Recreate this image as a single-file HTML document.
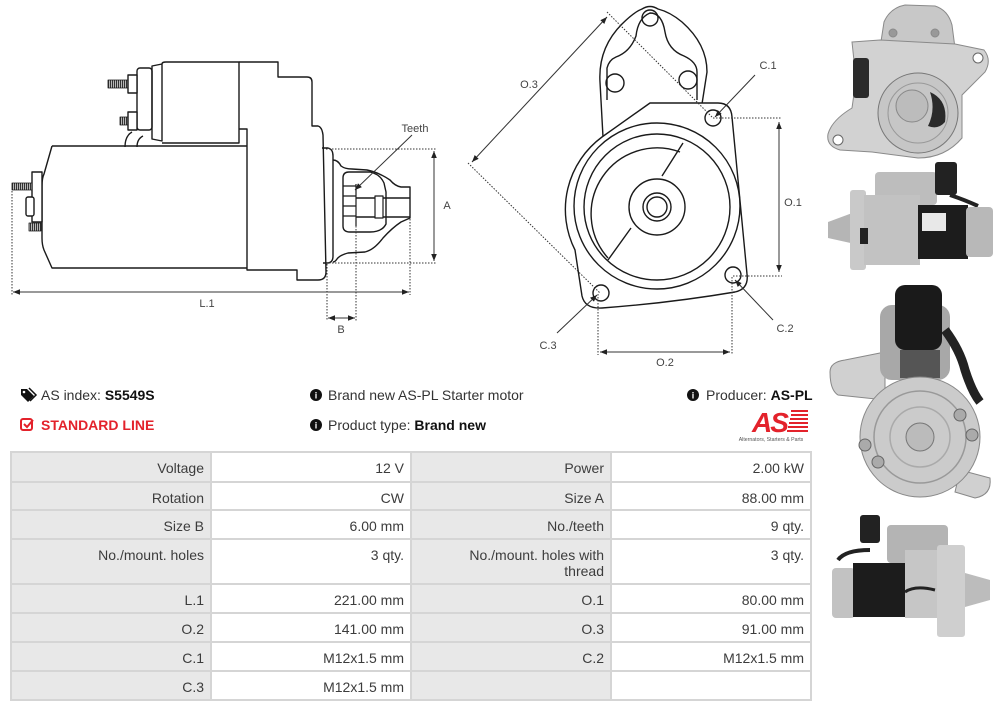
<!DOCTYPE html>
<html><head><meta charset="utf-8">
<style>
*{margin:0;padding:0;box-sizing:border-box}
html,body{width:1000px;height:711px;background:#fff;overflow:hidden;font-family:"Liberation Sans",Arial,sans-serif}
#svg{position:absolute;left:0;top:0}
.info{position:absolute;font-size:14px;color:#333;line-height:16px;white-space:nowrap}
.info b{color:#111}
.red{color:#e3222b;font-weight:bold}
table{position:absolute;left:10px;top:451px;width:800px;border-collapse:collapse;table-layout:fixed;font-size:14px;color:#3c3c3c}
td{border:2px solid #d5d5d5;text-align:right;vertical-align:top;padding:7px 6px 0 6px;line-height:16px;overflow:hidden;white-space:nowrap}
td.l{background:#e8e8e8}
td.v{background:#fff}
</style></head><body>
<svg id="svg" width="1000" height="711" viewBox="0 0 1000 711" xmlns="http://www.w3.org/2000/svg">
<defs>
<marker id="ar" viewBox="0 0 10 10" refX="10" refY="5" markerWidth="7" markerHeight="7" markerUnits="userSpaceOnUse" orient="auto-start-reverse"><path d="M0,1 L10,5 L0,9 z" fill="#222"/></marker>
<pattern id="thr" width="2" height="4" patternUnits="userSpaceOnUse"><rect width="1.2" height="4" fill="#333"/><rect x="1.2" width="0.8" height="4" fill="#bbb"/></pattern>
</defs>

<!-- LEFT DRAWING -->
<g fill="none" stroke="#1a1a1a" stroke-width="1.4" stroke-linejoin="round">
<!-- solenoid -->
<rect x="137" y="68" width="15" height="62" rx="3" fill="#fff"/>
<path d="M152,66 L162,64 L162,141 L152,139 Z"/>
<path d="M162,64 Q162,62 166,62 L239,62 L239,143 L162,143"/>
<rect x="108" y="80" width="20" height="8" fill="url(#thr)" stroke-width="0.8"/>
<rect x="128" y="75" width="9" height="18" fill="#fff"/>
<rect x="120" y="117" width="8" height="8" fill="url(#thr)" stroke-width="0.8"/>
<rect x="128" y="112" width="9" height="18" fill="#fff"/>
<!-- housing -->
<path d="M239,62 L278,62 L278,77 L307,77 Q312,77 312,82 L312,126 L318,126 Q322,127 323,135 L326,272 Q326,280 318,280 L297,280 L297,270 L247,270 L247,129 L239,129"/>
<!-- connection -->
<path d="M125,147 Q125,136 132,132"/><path d="M137,147 Q137,139 143,136"/>
<!-- motor body -->
<path d="M52,146 L247,146 M247,268 L52,268 L44,250 Q42,245 42,238 L42,186 Q42,178 44,174 L52,146"/>
<!-- left terminals -->
<rect x="32" y="172" width="10" height="50" fill="#fff"/>
<rect x="12" y="183" width="20" height="7" fill="url(#thr)" stroke-width="0.8"/>
<rect x="26" y="197" width="8" height="19" rx="2" fill="#fff"/>
<rect x="29" y="223" width="12" height="8" fill="url(#thr)" stroke-width="0.8"/>
<!-- flange -->
<path d="M322,148 L328,148 Q333,149 333,156 L333,256 Q333,263 327,263 L323,263"/>
<!-- nose -->
<path d="M333,160 Q338,160 341,166 Q345,169 352,169 L367,170 Q378,172 390,180 Q395,186 401,187 L410,187 L410,218 L401,222 Q392,228 383,238 Q374,250 365,252 L348,253 Q340,255 337,259 Q335,262 333,262"/>
<path d="M343,178 Q343,172 349,172 L370,172 Q380,174 384,183 L386,192 L386,224 Q382,232 370,232 L350,232 Q343,232 343,226 Z"/>
<path d="M343,186 L356,186 M343,196 L356,196 M343,206 L356,206 M343,216 L356,216 M356,184 L356,226" stroke-width="1.2"/>
<path d="M356,198 L410,198 M356,217 L410,217"/>
<rect x="375" y="196" width="8" height="22" fill="#fff" stroke-width="1.2"/>
</g>
<!-- left dims -->
<g fill="none" stroke="#333" stroke-width="1">
<path d="M326,149 L437,149 M329,263 L437,263 M12,191 L12,295 M410,219 L410,295 M327,264 L327,321 M356,226 L356,321" stroke-dasharray="1.5,1.5"/>
<path d="M434,151 L434,261" marker-start="url(#ar)" marker-end="url(#ar)"/>
<path d="M13,292 L409,292" marker-start="url(#ar)" marker-end="url(#ar)"/>
<path d="M328,318 L355,318" marker-start="url(#ar)" marker-end="url(#ar)"/>
<path d="M412,135 L355,190" marker-end="url(#ar)"/>
</g>
<g font-family="Liberation Sans,Arial,sans-serif" font-size="11" fill="#444" text-anchor="middle">
<text x="415" y="132">Teeth</text>
<text x="447" y="209">A</text>
<text x="207" y="307">L.1</text>
<text x="341" y="333">B</text>
</g>

<!-- MIDDLE DRAWING -->
<g fill="none" stroke="#1a1a1a" stroke-width="1.4" stroke-linejoin="round">
<path d="M603,137 L600,82 Q598,48 622,24 Q634,12 642,9 Q650,4 658,9 Q670,12 682,22 Q707,44 707,72 L702,104"/>
<path d="M607,100 L607,68 Q609,60 616,57 Q630,52 636,36 Q638,18 650,13 Q662,13 665,32 Q668,50 684,56 Q697,62 697,72 L697,100"/>
<circle cx="650" cy="18" r="8"/>
<circle cx="615" cy="83" r="9"/>
<circle cx="688" cy="80" r="9"/>
<path d="M602,137 L650,103 L718,103 Q731,103 732,117 L747,274 Q749,289 735,292 Q670,303 602,308 Q585,309 582,296 L575,250 A90,90 0 0 1 602,137" fill="#fff"/>
<circle cx="657" cy="206" r="83" fill="#fff"/>
<circle cx="657" cy="207" r="73"/>
<path d="M680,152 A66,66 0 0 0 608,258"/>
<path d="M683,143 L662,176 M631,228 L608,260"/>
<circle cx="657" cy="207" r="28" fill="#fff"/>
<circle cx="657" cy="207" r="14"/>
<circle cx="657" cy="207" r="10"/>
<circle cx="713" cy="118" r="8"/>
<circle cx="733" cy="275" r="8"/>
<circle cx="601" cy="293" r="8"/>
</g>
<g fill="none" stroke="#333" stroke-width="1">
<path d="M713,118 L782,118 M733,276 L782,276 M598,294 L598,355 M732,277 L732,355 M607,12 L713,118 M468,163 L600,293" stroke-dasharray="1.5,1.5"/>
<path d="M779,122 L779,272" marker-start="url(#ar)" marker-end="url(#ar)"/>
<path d="M600,352 L730,352" marker-start="url(#ar)" marker-end="url(#ar)"/>
<path d="M607,17 L472,162" marker-start="url(#ar)" marker-end="url(#ar)"/>
<path d="M755,75 L715,117" marker-end="url(#ar)"/>
<path d="M773,320 L735,280" marker-end="url(#ar)"/>
<path d="M557,333 L597,295" marker-end="url(#ar)"/>
</g>
<g font-family="Liberation Sans,Arial,sans-serif" font-size="11" fill="#444" text-anchor="middle">
<text x="768" y="69">C.1</text>
<text x="793" y="206">O.1</text>
<text x="529" y="88">O.3</text>
<text x="785" y="332">C.2</text>
<text x="548" y="349">C.3</text>
<text x="665" y="366">O.2</text>
</g>

<!-- PHOTOS -->
<!-- photo 1 -->
<g stroke="#8a8a8a" stroke-width="1">
<path d="M880,48 L884,22 Q890,8 905,5 L935,6 Q948,10 952,25 L955,48 Z" fill="#c8c8c8"/>
<path d="M852,42 L880,40 L955,44 L984,50 Q992,60 985,72 L962,95 L962,138 Q945,158 918,158 L872,152 L840,150 Q826,146 828,134 Q832,120 852,108 L856,80 Z" fill="#d2d2d2"/>
<circle cx="918" cy="113" r="40" fill="#c6c6c6" stroke="#777"/>
<circle cx="918" cy="113" r="30" fill="none" stroke="#999"/>
<circle cx="912" cy="106" r="16" fill="#bcbcbc" stroke="#888"/>
<path d="M930,92 Q948,100 945,122 Q938,130 928,126 Q936,110 930,92 Z" fill="#2a2a2a" stroke="none"/>
<rect x="853" y="58" width="16" height="40" rx="3" fill="#2b2b2b" stroke="none"/>
<circle cx="978" cy="58" r="5" fill="#fff" stroke="#666"/>
<circle cx="838" cy="140" r="5" fill="#fff" stroke="#666"/>
<circle cx="893" cy="33" r="4" fill="#999"/><circle cx="935" cy="33" r="4" fill="#999"/>
</g>
<!-- photo 2 -->
<g stroke="none">
<rect x="875" y="172" width="62" height="33" rx="4" fill="#bdbdbd"/>
<rect x="935" y="162" width="22" height="33" rx="3" fill="#222"/>
<path d="M950,195 Q965,200 978,206" stroke="#222" stroke-width="4" fill="none"/>
<path d="M828,222 L855,212 L855,244 L828,238 Z" fill="#b5b5b5"/>
<rect x="850" y="190" width="16" height="80" rx="3" fill="#c9c9c9"/>
<rect x="864" y="195" width="56" height="70" fill="#c2c2c2"/>
<rect x="918" y="205" width="50" height="54" fill="#1c1c1c"/>
<rect x="966" y="207" width="27" height="50" rx="4" fill="#b8b8b8"/>
<rect x="922" y="213" width="24" height="18" fill="#e8e8e8"/>
<rect x="860" y="228" width="8" height="16" fill="#222"/>
</g>
<!-- photo 3 -->
<g stroke="none">
<path d="M830,372 Q830,362 845,360 L885,352 L885,400 L838,395 Q830,390 830,372 Z" fill="#d0d0d0" stroke="#888"/>
<rect x="880" y="305" width="70" height="75" rx="12" fill="#a8a8a8"/>
<rect x="895" y="285" width="47" height="65" rx="10" fill="#1a1a1a"/>
<rect x="900" y="350" width="40" height="28" fill="#555"/>
<path d="M945,330 Q960,350 965,370 Q972,392 980,402" stroke="#222" stroke-width="9" fill="none"/>
<path d="M960,470 L990,478 Q992,495 975,498 L955,492 Z" fill="#d0d0d0" stroke="#888"/>
<circle cx="920" cy="437" r="60" fill="#cbcbcb" stroke="#888" stroke-width="1"/>
<circle cx="920" cy="437" r="46" fill="none" stroke="#999" stroke-width="1.5"/>
<circle cx="920" cy="437" r="30" fill="none" stroke="#aaa" stroke-width="1.5"/>
<circle cx="920" cy="437" r="14" fill="#bbb" stroke="#777" stroke-width="1"/>
<circle cx="865" cy="445" r="6" fill="#aaa" stroke="#666"/>
<circle cx="878" cy="462" r="6" fill="#aaa" stroke="#666"/>
<circle cx="960" cy="415" r="6" fill="#aaa" stroke="#666"/>
<circle cx="972" cy="435" r="6" fill="#aaa" stroke="#666"/>
</g>
<!-- photo 4 -->
<g stroke="none">
<rect x="860" y="515" width="20" height="28" rx="3" fill="#222"/>
<rect x="887" y="525" width="61" height="38" rx="4" fill="#b4b4b4"/>
<path d="M838,560 Q845,550 870,550" stroke="#222" stroke-width="4" fill="none"/>
<rect x="832" y="568" width="23" height="50" rx="4" fill="#c2c2c2"/>
<rect x="853" y="563" width="54" height="54" fill="#1c1c1c"/>
<rect x="905" y="550" width="35" height="68" fill="#c6c6c6"/>
<rect x="937" y="545" width="28" height="92" rx="3" fill="#cfcfcf"/>
<path d="M965,573 L990,580 L990,600 L965,607 Z" fill="#bcbcbc"/>
<path d="M905,592 Q915,585 935,590" stroke="#222" stroke-width="3" fill="none"/>
</g>

<!-- icons -->
<g>
<path d="M21,389 L27,389 L34,396 L28,402 L21,395 Z" fill="#111"/>
<circle cx="24" cy="392" r="1.3" fill="#fff"/>
<path d="M29,388 L36,395 L30,401" stroke="#111" stroke-width="1.5" fill="none"/>
<circle cx="316" cy="395" r="6" fill="#111"/>
<circle cx="693" cy="395" r="6" fill="#111"/>
<circle cx="316" cy="425" r="6" fill="#111"/>
<rect x="21" y="419" width="11" height="11" rx="2" fill="none" stroke="#e3222b" stroke-width="2"/>
<path d="M24,424 L27,427 L33,420" stroke="#e3222b" stroke-width="2" fill="none"/>
</g>
<g font-family="Liberation Sans,Arial,sans-serif" font-weight="bold" font-size="9" fill="#fff" text-anchor="middle">
<text x="316" y="398.5">i</text><text x="693" y="398.5">i</text><text x="316" y="428.5">i</text>
</g>
<!-- logo -->
<g>
<text x="752" y="432" font-family="Liberation Sans,Arial,sans-serif" font-weight="bold" font-style="italic" font-size="28" fill="#e3222b" letter-spacing="-2">AS</text>
<path d="M791,411 L808,411 M791,415 L808,415 M790,419 L808,419 M789,423 L808,423 M788,427 L808,427 M787,431 L808,431" stroke="#e3222b" stroke-width="2"/>
<text x="771" y="441" font-family="Liberation Sans,Arial,sans-serif" font-size="5.2" fill="#555" text-anchor="middle">Alternators, Starters &amp; Parts</text>
</g>
</svg>

<div class="info" style="left:41px;top:387px">AS index: <b>S5549S</b></div>
<div class="info red" style="left:41px;top:417px">STANDARD LINE</div>
<div class="info" style="left:328px;top:387px">Brand new AS-PL Starter motor</div>
<div class="info" style="left:328px;top:417px">Product type: <b>Brand new</b></div>
<div class="info" style="left:706px;top:387px">Producer: <b>AS-PL</b></div>

<table>
<colgroup><col style="width:200px"><col style="width:200px"><col style="width:200px"><col style="width:200px"></colgroup>
<tr style="height:30px"><td class="l">Voltage</td><td class="v">12 V</td><td class="l">Power</td><td class="v">2.00 kW</td></tr>
<tr style="height:28px"><td class="l">Rotation</td><td class="v">CW</td><td class="l">Size A</td><td class="v">88.00 mm</td></tr>
<tr style="height:29px"><td class="l">Size B</td><td class="v">6.00 mm</td><td class="l">No./teeth</td><td class="v">9 qty.</td></tr>
<tr style="height:45px"><td class="l">No./mount. holes</td><td class="v">3 qty.</td><td class="l">No./mount. holes with<br>thread</td><td class="v">3 qty.</td></tr>
<tr style="height:29px"><td class="l">L.1</td><td class="v">221.00 mm</td><td class="l">O.1</td><td class="v">80.00 mm</td></tr>
<tr style="height:29px"><td class="l">O.2</td><td class="v">141.00 mm</td><td class="l">O.3</td><td class="v">91.00 mm</td></tr>
<tr style="height:29px"><td class="l">C.1</td><td class="v">M12x1.5 mm</td><td class="l">C.2</td><td class="v">M12x1.5 mm</td></tr>
<tr style="height:29px"><td class="l">C.3</td><td class="v">M12x1.5 mm</td><td class="l"></td><td class="v"></td></tr>
</table>
</body></html>
